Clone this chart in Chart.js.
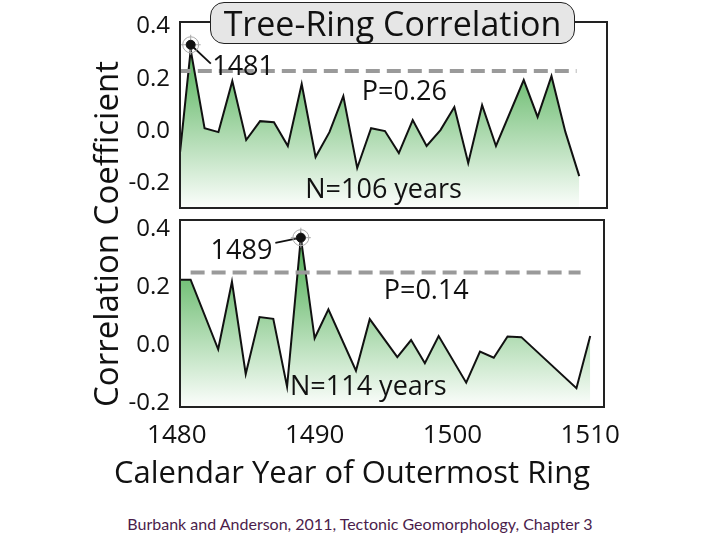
<!DOCTYPE html>
<html>
<head>
<meta charset="utf-8">
<script src="https://cdn.jsdelivr.net/npm/chart.js@4.4.1/dist/chart.umd.min.js"></script>
<style>
  body { margin: 0; background: #fff; }
  #wrap { position: relative; width: 720px; height: 540px; background: #fff; font-family: "Open Sans", sans-serif; color: #111; }
  #topBox { position: absolute; left: 0; top: 0; width: 720px; height: 212px; }
  #bottomBox { position: absolute; left: 0; top: 212px; width: 720px; height: 290px; }
  .title { position: absolute; left: 210px; top: 2px; width: 363px; height: 40px; background: #e6e6e6; border: 1.5px solid #222; border-radius: 14px; font-size: 34px; line-height: 40px; text-align: center; white-space: nowrap; }
  .ylabel { position: absolute; left: -94px; top: 212px; width: 400px; height: 44px; line-height: 44px; font-size: 33px; text-align: center; transform: rotate(-90deg); white-space: nowrap; }
  .xlabel { position: absolute; left: 52px; top: 446px; width: 600px; height: 50px; line-height: 50px; font-size: 31px; text-align: center; white-space: nowrap; }
  .credit { position: absolute; left: 0; top: 514px; width: 720px; text-align: center; font-family: Lato, sans-serif; font-size: 16px; color: #4b1d4b; }
</style>
</head>
<body>
<div id="wrap">
  <div id="topBox"><canvas id="topChart"></canvas></div>
  <div id="bottomBox"><canvas id="bottomChart"></canvas></div>
  <div class="title">Tree-Ring Correlation</div>
  <div class="ylabel">Correlation Coefficient</div>
  <div class="xlabel">Calendar Year of Outermost Ring</div>
  <div class="credit">Burbank and Anderson, 2011, Tectonic Geomorphology, Chapter 3</div>
</div>
<script>
// data
const xTicks = [1480, 1490, 1500, 1510];
const yTicks = [-0.2, 0, 0.2, 0.4];

const topYears = [1480, 1481, 1482, 1483, 1484, 1485, 1486, 1487, 1488, 1489, 1490, 1491, 1492, 1493, 1494,
                  1495, 1496, 1497, 1498, 1499, 1500, 1501, 1502, 1503, 1505, 1506, 1507, 1508, 1509];
const topValues = [-0.20, 0.31, 0.011, -0.004, 0.191, -0.034, 0.038, 0.034, -0.057, 0.18, -0.099, -0.004, 0.134, -0.141, 0.011,
                   0.0, -0.084, 0.042, -0.057, 0.004, 0.092, -0.122, 0.099, -0.057, 0.195, 0.054, 0.21, -0.003, -0.172];

const bottomYears = [1480, 1481, 1483, 1484, 1485, 1486, 1487, 1488, 1489, 1490, 1491, 1493, 1494,
                     1496, 1497, 1498, 1499, 1501, 1502, 1503, 1504, 1505, 1509, 1510];
const bottomValues = [0.225, 0.225, -0.015, 0.218, -0.10, 0.096, 0.09, -0.144, 0.37, 0.023, 0.123, -0.089, 0.089,
                      -0.042, 0.017, -0.063, 0.031, -0.13, -0.023, -0.044, 0.029, 0.027, -0.149, 0.031];

const topThreshold = 0.23;
const bottomThreshold = 0.25;
const topPeak = { year: 1481, value: 0.33, label: '1481' };
const bottomPeak = { year: 1489, value: 0.37, label: '1489' };

const xMin = 1480.23, xMax = 1511;

function toPoints(xs, ys) {
  return xs.map((x, i) => ({ x: x, y: ys[i] }));
}

function greenFill(context) {
  const { ctx, chartArea } = context.chart;
  if (!chartArea) return null;
  const g = ctx.createLinearGradient(0, chartArea.top, 0, chartArea.bottom);
  g.addColorStop(0, 'rgb(78,170,84)');
  g.addColorStop(0.3, 'rgb(112,190,116)');
  g.addColorStop(1, 'rgb(252,254,252)');
  return g;
}

// frame round the plot and the small texts inside it
const panelPlugin = {
  id: 'panel',
  afterDatasetsDraw(chart, args, opts) {
    const { ctx, chartArea: a, scales } = chart;
    ctx.save();
    ctx.font = opts.font;
    ctx.fillStyle = '#111';
    ctx.textBaseline = 'middle';
    (opts.notes || []).forEach(n => {
      ctx.textAlign = n.align || 'center';
      ctx.fillText(n.text, scales.x.getPixelForValue(n.x), scales.y.getPixelForValue(n.y));
    });
    ctx.lineWidth = 2;
    ctx.strokeStyle = '#222';
    ctx.strokeRect(a.left, a.top, a.right - a.left, a.bottom - a.top);
    ctx.restore();
  }
};

function makeChart(id, years, values, threshold, thresholdRange, peak, leaderEnd, notes, yMin, yMax, pad, showX) {
  const datasets = [
    { data: [{ x: peak.year, y: peak.value }], pointStyle: 'circle', pointRadius: 4.5, pointBackgroundColor: '#111', pointBorderColor: '#111', showLine: false, order: 0 },
    { data: [{ x: peak.year, y: peak.value }], pointStyle: 'circle', pointRadius: 8, pointBackgroundColor: 'rgba(0,0,0,0)', pointBorderColor: '#aaa', pointBorderWidth: 1, showLine: false, order: 1 },
    { data: [{ x: peak.year, y: peak.value }], pointStyle: 'cross', pointRadius: 10, pointBorderColor: '#aaa', pointBorderWidth: 1, showLine: false, order: 1 },
    { data: [{ x: peak.year, y: peak.value }, leaderEnd], borderColor: '#111', borderWidth: 1.8, pointRadius: 0, order: 2 },
    { data: thresholdRange.map(x => ({ x: x, y: threshold })), borderColor: '#9a9a9a', borderWidth: 4, borderDash: [14, 7], pointRadius: 0, order: 3 },
    { data: toPoints(years, values), borderColor: '#111', borderWidth: 2, pointRadius: 0, tension: 0, fill: 'start', backgroundColor: greenFill, order: 4 }
  ];
  return new Chart(document.getElementById(id), {
    type: 'line',
    data: { datasets: datasets },
    plugins: [panelPlugin],
    options: {
      responsive: true,
      maintainAspectRatio: false,
      animation: false,
      devicePixelRatio: 1,
      layout: { padding: pad, autoPadding: false },
      plugins: {
        legend: { display: false },
        tooltip: { enabled: false },
        panel: { notes: notes, font: '27px "Open Sans"' }
      },
      scales: {
        x: {
          type: 'linear',
          min: xMin,
          max: xMax,
          display: showX,
          grid: { display: false, drawTicks: false },
          border: { display: false },
          afterBuildTicks: s => { s.ticks = xTicks.map(v => ({ value: v })); },
          afterFit: s => {
            s.height = showX ? 95 : 0;
            s.paddingLeft = 0;
            s.paddingRight = 0;
          },
          ticks: { display: showX, autoSkip: false, maxRotation: 0, padding: 13, color: '#111', font: { family: 'Open Sans', size: 26 }, callback: v => String(v) }
        },
        y: {
          min: yMin,
          max: yMax,
          grid: { display: false, drawTicks: false },
          border: { display: false },
          afterBuildTicks: s => { s.ticks = yTicks.map(v => ({ value: v })); },
          afterFit: s => {
            s.width = 180;
            s.paddingTop = 0;
            s.paddingBottom = 0;
          },
          ticks: { padding: 10, color: '#111', font: { family: 'Open Sans', size: 24 }, callback: v => v.toFixed(1) }
        }
      }
    }
  });
}

makeChart('topChart', topYears, topValues, topThreshold, [1480, 1508.8], topPeak,
  { x: 1482.45, y: 0.258 },
  [
    { x: 1482.55, y: 0.245, text: topPeak.label, align: 'left' },
    { x: 1496.4, y: 0.149, text: 'P=0.26' },
    { x: 1494.9, y: -0.226, text: 'N=106 years' }
  ],
  -0.294, 0.417, { top: 22, right: 113, bottom: 4, left: 0 }, false);

makeChart('bottomChart', bottomYears, bottomValues, bottomThreshold, [1481, 1509.3], bottomPeak,
  { x: 1487.15, y: 0.352 },
  [
    { x: 1486.93, y: 0.324, text: bottomPeak.label, align: 'right' },
    { x: 1498.1, y: 0.186, text: 'P=0.14' },
    { x: 1493.9, y: -0.147, text: 'N=114 years' }
  ],
  -0.214, 0.431, { top: 8, right: 116, bottom: 0, left: 0 }, true);
</script>
</body>
</html>
